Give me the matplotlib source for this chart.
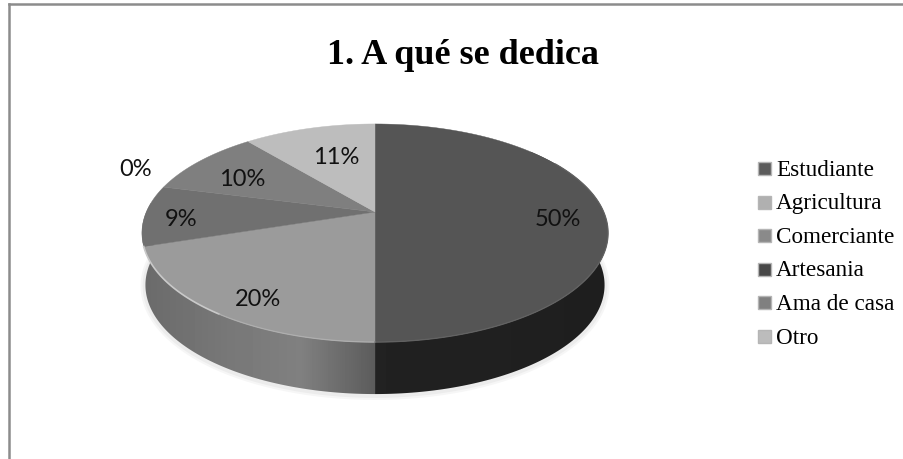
import numpy as np
import matplotlib
matplotlib.use("Agg")
import matplotlib.pyplot as plt
from matplotlib.patches import Polygon, Rectangle

# chart data
categories = ["Estudiante", "Agricultura", "Comerciante", "Artesania", "Ama de casa", "Otro"]
values = [50, 20, 0, 9, 10, 11]
pct_labels = ["50%", "20%", "0%", "9%", "10%", "11%"]

face_colors = ["#555555", "#9b9b9b", "#8c8c8c", "#707070", "#7f7f7f", "#bdbdbd"]
legend_colors = ["#5c5c5c", "#b0b0b0", "#8a8a8a", "#484848", "#808080", "#bcbcbc"]

# layout, in pixels of the 904x459 picture
CX, CY = 375, 212      # apex of the pie
RX, RY = 228.7, 105    # projected radii
K = -0.1927            # perspective of the tilted disc
DEPTH = 52
label_pos = [(558, 219), (258, 300), (136, 169), (181, 220), (242, 179), (336, 158)]


def rim(theta, lower=False):
    """Points on the pie edge, theta in degrees clockwise from 12 o'clock."""
    t = np.radians(theta)
    d = 1 - K * np.cos(t)
    x = RX * np.sin(t) / d
    y = -RY * np.cos(t) / d
    if lower:
        return CX + x * 0.985, CY + y + DEPTH
    return CX + x, CY + y


def side_shape(t0, t1):
    th = np.linspace(t0, t1, 120)
    ux, uy = rim(th)
    lx, ly = rim(th[::-1], lower=True)
    return np.r_[ux, lx], np.r_[uy, ly]


def gradient_side(ax, t0, t1, xs, greys):
    """Side wall of a slice, shaded left to right and clipped to its outline."""
    x, y = side_shape(t0, t1)
    poly = Polygon(np.c_[x, y], closed=True, fc="none", ec="none")
    ax.add_patch(poly)
    px = np.arange(int(x.min()) - 1, int(x.max()) + 2)
    row = np.interp(px, xs, greys)[None, :]
    im = ax.imshow(row, cmap="gray", vmin=0, vmax=255, aspect="auto", zorder=2,
                   extent=(px[0], px[-1] + 1, y.max() + 1, y.min() - 1))
    im.set_clip_path(poly)


fig = plt.figure(figsize=(9.04, 4.59), dpi=100)
ax = fig.add_axes([0, 0, 1, 1])

# soft shadow under the pie
th = np.linspace(60, 290, 200)
sx, sy = rim(th, lower=True)
for lw, c in [(7, "#f6f6f6"), (4, "#ececec")]:
    ax.plot(sx, sy + 1, color=c, lw=lw, zorder=1, solid_capstyle="round")

# walls
gradient_side(ax, 50, 180, [375, 376, 450, 610], [44, 34, 33, 30])
gradient_side(ax, 180, 275, [140, 230, 300, 374], [106, 120, 128, 92])

# top face, one wedge per value
start = 0.0
total = sum(values)
rim_angles = []
for val, col in zip(values, face_colors):
    end = start + 360.0 * val / total
    rim_angles.append((start, end))
    if val > 0:
        th = np.linspace(start, end, 100)
        x, y = rim(th)
        ax.add_patch(Polygon(np.r_[[[CX, CY]], np.c_[x, y]], closed=True,
                             fc=col, ec=col, lw=0.3, zorder=3))
    start = end

# bevel along the front of the top face
a0, a1 = rim_angles[1]
bx, by = rim(np.linspace(a0 + 35, a1, 80))
ax.plot(bx, by, color="#c9c9c9", lw=1.2, zorder=4)
bx, by = rim(np.linspace(a0, a0 + 35, 40))
ax.plot(bx, by, color="#aeaeae", lw=0.9, zorder=4)
bx, by = rim(np.linspace(60, 180, 100))
ax.plot(bx, by, color="#626262", lw=0.9, zorder=4)

for txt, (lx, ly) in zip(pct_labels, label_pos):
    ax.text(lx, ly, txt, ha="center", va="center", fontsize=17,
            family="Lato", color="#111111", zorder=5)

ax.text(463, 56, "1. A qué se dedica", ha="center", va="center", fontsize=26,
        family="Liberation Serif", fontweight="bold", color="black")

# legend
for i, (name, col) in enumerate(zip(categories, legend_colors)):
    y = 162 + i * 33.5
    ax.add_patch(Rectangle((758.5, y), 13, 13, fc=col, ec="#b5b5b5", lw=1.0))
    ax.text(776, y + 14, name, ha="left", va="baseline", fontsize=16.7,
            family="Liberation Serif", color="black")

# frame: top and left only
ax.plot([9, 904], [4, 4], color="#8c8c8c", lw=1.8, zorder=6)
ax.plot([9, 9], [4, 459], color="#8c8c8c", lw=1.8, zorder=6)

ax.set_xlim(0, 904)
ax.set_ylim(459, 0)
ax.axis("off")
fig.savefig("out.png", dpi=100)
